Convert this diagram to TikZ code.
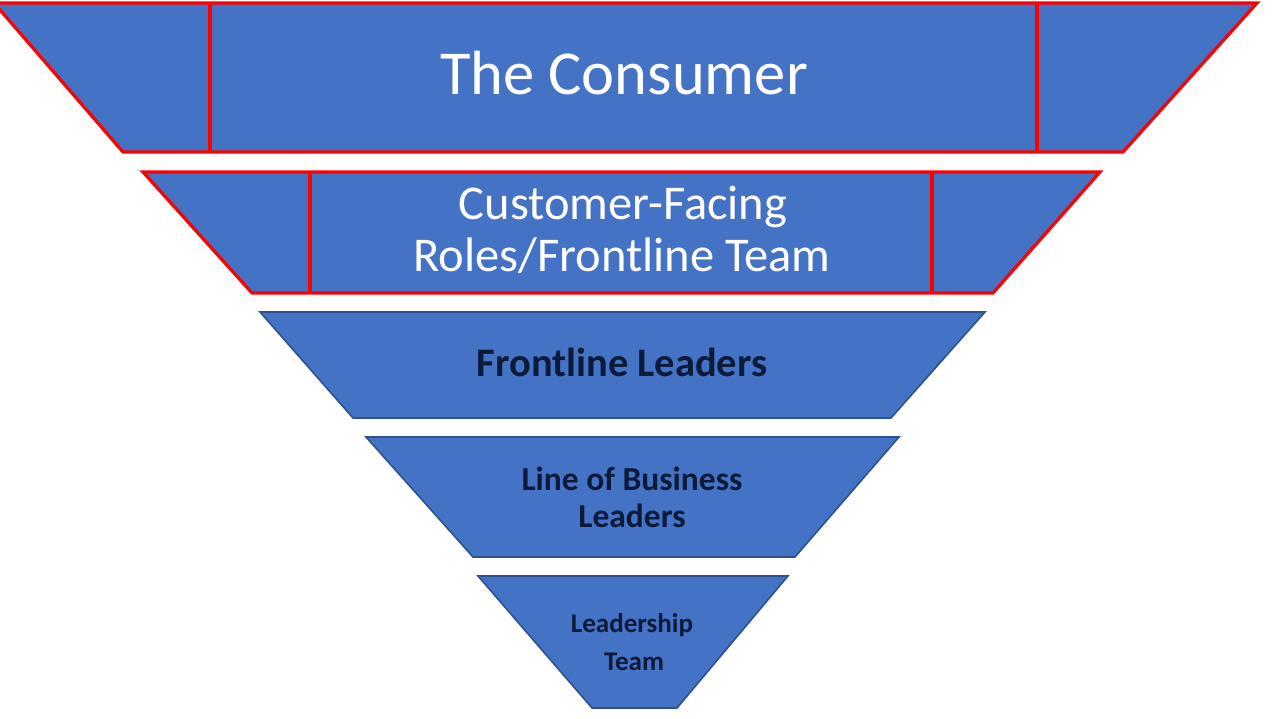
\documentclass[tikz,border=0pt]{standalone}
\usepackage{fontspec}
\setmainfont{Carlito}
\definecolor{fillblue}{HTML}{4472C4}
\definecolor{edgeblue}{HTML}{2F528F}
\definecolor{redline}{HTML}{FF0000}
\definecolor{darktext}{HTML}{0C1A3A}
\begin{document}
\begin{tikzpicture}[x=1pt,y=-1pt,
  redlayer/.style={fill=fillblue,draw=redline,line width=3.2pt,line join=miter},
  divider/.style={draw=redline,line width=3.2pt},
  bluelayer/.style={fill=fillblue,draw=edgeblue,line width=1.6pt,line join=miter},
  whitelbl/.style={text=white,anchor=base,inner sep=0pt},
  darklbl/.style={text=darktext,anchor=base,inner sep=0pt,font=\bfseries}]
\useasboundingbox (0,0) rectangle (1280,719);
\clip (0,0) rectangle (1280,719);
\fill[white] (0,0) rectangle (1280,719);
% layer 1
\path[redlayer] (-6,3) -- (1257,3) -- (1123,152) -- (123,152) -- cycle;
\draw[divider] (210,3) -- (210,152);
\draw[divider] (1037,3) -- (1037,152);
% layer 2
\path[redlayer] (143,172) -- (1100,172) -- (993,293) -- (252,293) -- cycle;
\draw[divider] (310,172) -- (310,293);
\draw[divider] (932,172) -- (932,293);
% layer 3
\path[bluelayer] (260,312) -- (985,312) -- (891,418) -- (353,418) -- cycle;
% layer 4
\path[bluelayer] (366,437) -- (899,437) -- (795,557) -- (473,557) -- cycle;
% layer 5
\path[bluelayer] (478,576) -- (788,576) -- (677,708) -- (592,708) -- cycle;
% labels
\node[whitelbl,font=\fontsize{62.5}{62.5}\selectfont] (consumer) at (624,95) {The Consumer};
\node[whitelbl,font=\fontsize{48.5}{48.5}\selectfont] (cf1) at (623,220) {Customer-Facing};
\node[whitelbl,font=\fontsize{48.5}{48.5}\selectfont] (cf2) at (622,272) {Roles/Frontline Team};
\node[darklbl,font=\fontsize{40.5}{40.5}\selectfont\bfseries] (fl) at (622,377) {Frontline Leaders};
\node[darklbl,font=\fontsize{33.5}{33.5}\selectfont\bfseries] (lob1) at (632,490) {Line of Business};
\node[darklbl,font=\fontsize{33.5}{33.5}\selectfont\bfseries] (lob2) at (632,527) {Leaders};
\node[darklbl,font=\fontsize{27}{27}\selectfont\bfseries] (lt1) at (632,632) {Leadership};
\node[darklbl,font=\fontsize{27}{27}\selectfont\bfseries] (lt2) at (634,670) {Team};
\end{tikzpicture}
\end{document}
